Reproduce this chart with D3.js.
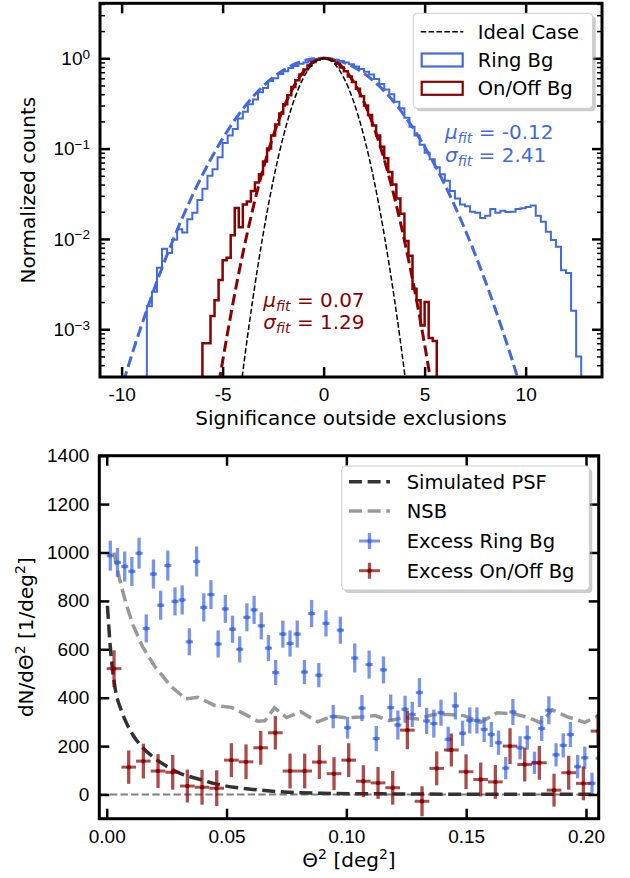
<!DOCTYPE html>
<html>
<head>
<meta charset="utf-8">
<script src="https://cdn.jsdelivr.net/npm/d3@7"></script>
<style>
body { margin: 0; background: #fff; }
svg { font-family: "DejaVu Sans", sans-serif; }
</style>
</head>
<body>
<div id="chart"></div>
<script>
'use strict';

var width = 630;
var height = 878;

// ---- top panel: significance outside exclusions ----

// ring background histogram, bins of 0.25 starting at -8.75
var ringBinStart = -8.75;
var ringBinWidth = 0.25;
var ringCounts = [
	0.0018, 0.0026, 0.0048, 0.0078, 0.0070, 0.0098, 0.0128, 0.0118, 0.0165, 0.0195,
	0.0270, 0.0360, 0.0500, 0.0590, 0.0800, 0.1150, 0.1400, 0.1650, 0.2150, 0.2550,
	0.3100, 0.3500, 0.4200, 0.4700, 0.5600, 0.6000, 0.6700, 0.7200, 0.7800, 0.8200,
	0.8700, 0.9000, 0.9400, 0.9700, 1.0000, 0.9900, 0.9800, 0.9600, 0.9300, 0.9000,
	0.8600, 0.8100, 0.7600, 0.7100, 0.6600, 0.5900, 0.5200, 0.4500, 0.4000, 0.3300,
	0.2800, 0.2200, 0.1750, 0.1400, 0.1100, 0.0900, 0.0760, 0.0620, 0.0520, 0.0440,
	0.0340, 0.0280, 0.0240, 0.0230, 0.0200, 0.0195, 0.0170, 0.0180, 0.0215, 0.0195,
	0.0205, 0.0198, 0.0200, 0.0215, 0.0218, 0.0225, 0.0235, 0.0180, 0.0155, 0.0120,
	0.0097, 0.0082, 0.0045, 0.0042, 0.0016, 0.0005
];

// on/off background histogram, bins of 0.2 starting at -6
var onoffBinStart = -6.0;
var onoffBinWidth = 0.2;
var onoffCounts = [
	0.0007, 0.0007, 0.0014, 0.0021, 0.0035, 0.0058, 0.0062, 0.0110, 0.0220, 0.0135,
	0.0240, 0.0260, 0.0340, 0.0420, 0.0520, 0.0720, 0.1000, 0.1400, 0.1850, 0.2450,
	0.3100, 0.3900, 0.4800, 0.5700, 0.6600, 0.7500, 0.8300, 0.9100, 0.9600, 0.9900,
	1.0000, 0.9800, 0.9400, 0.8700, 0.7900, 0.7200, 0.6300, 0.5450, 0.4600, 0.3800,
	0.3000, 0.2350, 0.1800, 0.1400, 0.1050, 0.0780, 0.0550, 0.0400, 0.0280, 0.0190,
	0.0095, 0.0065, 0.0028, 0.0021, 0.0011, 0.0020, 0.0008, 0.00074
];

// dashed curves
var idealX = [-4.5, -4, -3.5, -3, -2.5, -2, -1.5, -1, -0.5, 0, 0.5, 1, 1.5, 2, 2.5, 3, 3.5, 4, 4.5];
var idealY = [4.0e-5, 3.36e-4, 2.19e-3, 0.0111, 0.0439, 0.135, 0.325, 0.607, 0.883, 1,
	0.883, 0.607, 0.325, 0.135, 0.0439, 0.0111, 2.19e-3, 3.36e-4, 4.0e-5];

var onoffFitX = [-6, -5.5, -5, -4.5, -4, -3.5, -3, -2.5, -2, -1.5, -1, -0.5, 0,
	0.5, 1, 1.5, 2, 2.5, 3, 3.5, 4, 4.5, 5, 5.5, 6];
var onoffFitY = [1.56e-5, 8.95e-5, 4.42e-4, 1.88e-3, 6.89e-3, 0.0217, 0.0589, 0.137, 0.276,
	0.477, 0.709, 0.907, 0.999, 0.946, 0.771, 0.541, 0.327, 0.170, 0.0758, 0.0292,
	9.65e-3, 2.75e-3, 6.74e-4, 1.42e-4, 2.58e-5];

var ringFitX = [-11, -10, -9, -8, -7, -6, -5, -4, -3, -2, -1, 0, 1, 2, 3, 4, 5, 6, 7, 8, 9, 10, 11];
var ringFitY = [3.75e-5, 2.24e-4, 1.13e-3, 4.77e-3, 0.0170, 0.0510, 0.129, 0.274, 0.490,
	0.738, 0.936, 0.999, 0.898, 0.679, 0.433, 0.232, 0.105, 0.0398, 0.0127, 3.43e-3,
	7.76e-4, 1.48e-4, 2.38e-5];

var ringFitText = ["-0.12", "2.41"];
var onoffFitText = ["0.07", "1.29"];

var sigTicks = [-10, -5, 0, 5, 10];
var countTicks = [1e-3, 1e-2, 1e-1, 1];
var countExponents = ["\u22123", "\u22122", "\u22121", "0"];

// ---- bottom panel: theta^2 distribution ----

// ring excess, bins of 0.003 deg^2
var ringThetaBin = 0.003;
var ringExcess = [
	987, 959, 942, 922, 997, 686, 911, 782, 946, 798,
	804, 631, 963, 773, 826, 622, 767, 683, 600, 732,
	763, 697, 605, 504, 663, 624, 663, 506, 748, 493,
	707, 322, 679, 276, 564, 357, 537, 231, 515, 359,
	287, 352, 331, 421, 304, 293, 338, 228, 366, 253,
	306, 306, 269, 248, 214, 109, 341, 193, 235, 131,
	273, 348, 164, 203, 248, 115, 152, 46, 150
];
var ringExcessErr = [
	62, 60, 62, 60, 64, 58, 60, 60, 62, 58,
	60, 56, 62, 58, 60, 56, 58, 56, 54, 58,
	58, 56, 54, 52, 56, 54, 56, 50, 56, 50,
	54, 48, 56, 45, 60, 54, 58, 52, 56, 54,
	60, 56, 52, 60, 54, 58, 54, 52, 56, 52,
	54, 54, 52, 52, 50, 46, 54, 48, 50, 46,
	52, 58, 48, 50, 52, 48, 46, 44, 46
];

// on/off excess, bins of 0.00612 deg^2
var onoffThetaBin = 0.00612;
var onoffExcess = [
	520, 113, 138, 97, 92, 35, 30, 26, 142, 135,
	193, 255, 97, 97, 134, 86, 142, 55, 48, 28,
	266, -28, 108, 184, 94, 62, 52, 200, 124, 131,
	18, 90, 46, 262
];
var onoffExcessErr = [
	76, 69, 72, 70, 72, 68, 72, 74, 70, 72,
	70, 69, 72, 72, 70, 68, 70, 66, 66, 70,
	79, 62, 70, 68, 72, 70, 70, 74, 70, 70,
	68, 70, 70, 70
];

var psfTheta = [0.0003, 0.0015, 0.0035, 0.006, 0.0085, 0.011, 0.014, 0.02, 0.025, 0.03,
	0.039, 0.045, 0.053, 0.061, 0.074, 0.09, 0.11, 0.13, 0.16, 0.19, 0.206];
var psfValue = [780, 610, 440, 350, 290, 245, 205, 150, 117, 90,
	62, 45, 30, 21, 10, 5, 3, 2, 1, 1, 1];

var nsbTheta = [0.003, 0.005, 0.008, 0.011, 0.015, 0.02, 0.027, 0.033, 0.038, 0.045,
	0.052, 0.058, 0.063, 0.066, 0.070, 0.075, 0.081, 0.088, 0.094, 0.100,
	0.106, 0.112, 0.118, 0.124, 0.130, 0.136, 0.143, 0.149, 0.156, 0.163,
	0.170, 0.176, 0.181, 0.186, 0.192, 0.1995, 0.205];
var nsbValue = [1000, 905, 790, 700, 610, 530, 445, 395, 402, 368,
	360, 330, 303, 305, 358, 318, 342, 300, 324, 317,
	320, 326, 305, 318, 312, 330, 331, 326, 298, 338,
	333, 318, 297, 350, 322, 298, 325];

var thetaTicks = [0, 0.05, 0.1, 0.15, 0.2];
var excessTicks = [0, 200, 400, 600, 800, 1000, 1200, 1400];

// ---- drawing ----

var ring_color = "#4169e1";
var onoff_color = "#8b0000";

var top_box = {x0: 100, x1: 602, y0: 3.3, y1: 377};
var bot_box = {x0: 99.3, x1: 598.7, y0: 455.7, y1: 818.7};

var sig_scale = d3.scaleLinear().domain([-11.07, 13.78]).range([top_box.x0, top_box.x1]);
var count_scale = d3.scaleLog().domain([2.96e-4, 4.06]).range([top_box.y1, top_box.y0]);
var theta_scale = d3.scaleLinear().domain([-0.00309, 0.2053]).range([bot_box.x0, bot_box.x1]);
var excess_scale = d3.scaleLinear().domain([-100, 1400]).range([bot_box.y1, bot_box.y0]);

var svg = d3.select("#chart").append("svg")
	.attr("width", width)
	.attr("height", height);

var defs = svg.append("defs");

function add_clip(id, box) {
	defs.append("clipPath").attr("id", id).append("rect")
		.attr("x", box.x0).attr("y", box.y0)
		.attr("width", box.x1 - box.x0).attr("height", box.y1 - box.y0);
}
add_clip("clip_top", top_box);
add_clip("clip_bot", bot_box);

// outline of a step histogram, closed down to a floor below the axis
function step_points(start, w, counts, floor) {
	var pts = [[start, floor]];
	counts.forEach(function(c, i) {
		pts.push([start + i * w, c]);
		pts.push([start + (i + 1) * w, c]);
	});
	pts.push([start + counts.length * w, floor]);
	return pts;
}

function zip(xs, ys) {
	return xs.map(function(x, i) { return [x, ys[i]]; });
}

function style_ticks(g, w) {
	g.select(".domain").remove();
	g.selectAll(".tick line").attr("stroke", "black").attr("stroke-width", w);
	g.selectAll(".tick text").attr("fill", "black").style("font-size", "19px");
}

function draw_legend_box(x, y, w, h) {
	svg.append("rect")
		.attr("x", x + 3).attr("y", y + 3)
		.attr("width", w).attr("height", h).attr("rx", 4)
		.style("fill", "#999").style("opacity", 0.5);
	svg.append("rect")
		.attr("x", x).attr("y", y)
		.attr("width", w).attr("height", h).attr("rx", 4)
		.style("fill", "white").style("stroke", "#cccccc").style("stroke-width", 1);
}

function fit_label(x, y, sym, value, color) {
	var t = svg.append("text")
		.attr("x", x).attr("y", y)
		.attr("fill", color)
		.style("font-size", "20px");
	t.append("tspan").style("font-style", "italic").text(sym);
	t.append("tspan").style("font-style", "italic").style("font-size", "14px")
		.attr("dy", 4).text("fit");
	t.append("tspan").attr("dy", -4).text(" = " + value);
}

// -- top panel --

var hist_line = d3.line()
	.x(function(d) { return sig_scale(d[0]); })
	.y(function(d) { return count_scale(d[1]); });

var fit_line = d3.line()
	.curve(d3.curveNatural)
	.x(function(d) { return sig_scale(d[0]); })
	.y(function(d) { return count_scale(d[1]); });

var top_plot = svg.append("g").attr("clip-path", "url(#clip_top)");

top_plot.append("path")
	.attr("d", hist_line(step_points(ringBinStart, ringBinWidth, ringCounts, 1e-6)))
	.style("fill", "none").style("stroke", ring_color).style("stroke-width", 2);

top_plot.append("path")
	.attr("d", hist_line(step_points(onoffBinStart, onoffBinWidth, onoffCounts, 1e-6)))
	.style("fill", "none").style("stroke", onoff_color).style("stroke-width", 2.5);

top_plot.append("path")
	.attr("d", fit_line(zip(ringFitX, ringFitY)))
	.style("fill", "none").style("stroke", ring_color)
	.style("stroke-width", 3).style("stroke-dasharray", "11,4.8");

top_plot.append("path")
	.attr("d", fit_line(zip(onoffFitX, onoffFitY)))
	.style("fill", "none").style("stroke", onoff_color)
	.style("stroke-width", 3).style("stroke-dasharray", "11,4.8");

top_plot.append("path")
	.attr("d", fit_line(zip(idealX, idealY)))
	.style("fill", "none").style("stroke", "black")
	.style("stroke-width", 1.5).style("stroke-dasharray", "5.5,2.4");

// ticks, all pointing inwards
var minorCounts = count_scale.ticks().filter(function(d) {
	return countTicks.indexOf(d) < 0;
});

var g_bottom = svg.append("g").attr("transform", "translate(0," + top_box.y1 + ")")
	.call(d3.axisBottom(sig_scale).tickValues(sigTicks).tickSize(-10).tickPadding(11)
		.tickFormat(function(d) { return String(d); }));
style_ticks(g_bottom, 2.5);

var g_top = svg.append("g").attr("transform", "translate(0," + top_box.y0 + ")")
	.call(d3.axisTop(sig_scale).tickValues(sigTicks).tickSize(-10).tickFormat(""));
style_ticks(g_top, 2.5);

var g_left = svg.append("g").attr("transform", "translate(" + top_box.x0 + ",0)")
	.call(d3.axisLeft(count_scale).tickValues(countTicks).tickSize(-10).tickPadding(10));
style_ticks(g_left, 2.5);
g_left.selectAll(".tick text").text(null).each(function(d, i) {
	var t = d3.select(this);
	t.append("tspan").text("10");
	t.append("tspan").attr("dy", "-0.45em").style("font-size", "13.5px").text(countExponents[i]);
});

var g_left_minor = svg.append("g").attr("transform", "translate(" + top_box.x0 + ",0)")
	.call(d3.axisLeft(count_scale).tickValues(minorCounts).tickSize(-5).tickFormat(""));
style_ticks(g_left_minor, 1.5);

var g_right = svg.append("g").attr("transform", "translate(" + top_box.x1 + ",0)")
	.call(d3.axisRight(count_scale).tickValues(countTicks).tickSize(-10).tickFormat(""));
style_ticks(g_right, 2.5);

var g_right_minor = svg.append("g").attr("transform", "translate(" + top_box.x1 + ",0)")
	.call(d3.axisRight(count_scale).tickValues(minorCounts).tickSize(-5).tickFormat(""));
style_ticks(g_right_minor, 1.5);

svg.append("rect")
	.attr("x", top_box.x0).attr("y", top_box.y0)
	.attr("width", top_box.x1 - top_box.x0).attr("height", top_box.y1 - top_box.y0)
	.style("fill", "none").style("stroke", "black").style("stroke-width", 3);

svg.append("text")
	.attr("x", (top_box.x0 + top_box.x1) / 2).attr("y", 425)
	.attr("text-anchor", "middle").style("font-size", "20px")
	.text("Significance outside exclusions");

svg.append("text")
	.attr("transform", "translate(35," + (top_box.y0 + top_box.y1) / 2 + ") rotate(-90)")
	.attr("text-anchor", "middle").style("font-size", "20px")
	.text("Normalized counts");

fit_label(445, 139, "\u03bc", ringFitText[0], ring_color);
fit_label(445, 161.7, "\u03c3", ringFitText[1], ring_color);
fit_label(263.3, 306.7, "\u03bc", onoffFitText[0], onoff_color);
fit_label(263.3, 329.3, "\u03c3", onoffFitText[1], onoff_color);

// top legend
draw_legend_box(413.3, 13.3, 179.4, 95);

var top_legend = [
	{label: "Ideal Case", kind: "line", color: "black", y: 31.7},
	{label: "Ring Bg", kind: "patch", color: ring_color, y: 60},
	{label: "On/Off Bg", kind: "patch", color: onoff_color, y: 88.3}
];

top_legend.forEach(function(d) {
	if (d.kind == "line") {
		svg.append("line")
			.attr("x1", 420.7).attr("x2", 463.3).attr("y1", d.y).attr("y2", d.y)
			.style("stroke", d.color).style("stroke-width", 1.5)
			.style("stroke-dasharray", "5.5,2.4");
	} else {
		svg.append("rect")
			.attr("x", 421.7).attr("y", d.y - 6.5).attr("width", 41).attr("height", 13)
			.style("fill", "none").style("stroke", d.color).style("stroke-width", 2.2);
	}
	svg.append("text")
		.attr("x", 477.7).attr("y", d.y).attr("dy", "0.36em")
		.style("font-size", "19.5px").text(d.label);
});

// -- bottom panel --

var bot_plot = svg.append("g").attr("clip-path", "url(#clip_bot)");

bot_plot.append("line")
	.attr("x1", bot_box.x0).attr("x2", bot_box.x1)
	.attr("y1", excess_scale(0)).attr("y2", excess_scale(0))
	.style("stroke", "#808080").style("stroke-width", 2)
	.style("stroke-dasharray", "7.4,3.2");

var theta_line = d3.line()
	.x(function(d) { return theta_scale(d[0]); })
	.y(function(d) { return excess_scale(d[1]); });

bot_plot.append("path")
	.attr("d", theta_line.curve(d3.curveMonotoneX)(zip(psfTheta, psfValue)))
	.style("fill", "none").style("stroke", "#333333")
	.style("stroke-width", 3.5).style("stroke-dasharray", "13,5.6");

bot_plot.append("path")
	.attr("d", theta_line.curve(d3.curveLinear)(zip(nsbTheta, nsbValue)))
	.style("fill", "none").style("stroke", "#999999")
	.style("stroke-width", 3.5).style("stroke-dasharray", "13,5.6");

function draw_errorbars(bin, values, errs, color) {
	var pts = values.map(function(v, i) {
		return {x: (i + 0.5) * bin, y: v, e: errs[i]};
	});
	var g = bot_plot.append("g");
	var bars = g.append("g").style("opacity", 0.7);

	bars.selectAll(null).data(pts).enter().append("line")
		.attr("x1", function(d) { return theta_scale(d.x); })
		.attr("x2", function(d) { return theta_scale(d.x); })
		.attr("y1", function(d) { return excess_scale(d.y - d.e); })
		.attr("y2", function(d) { return excess_scale(d.y + d.e); })
		.style("stroke", color).style("stroke-width", 3.3);

	bars.selectAll(null).data(pts).enter().append("line")
		.attr("x1", function(d) { return theta_scale(d.x - bin / 2); })
		.attr("x2", function(d) { return theta_scale(d.x + bin / 2); })
		.attr("y1", function(d) { return excess_scale(d.y); })
		.attr("y2", function(d) { return excess_scale(d.y); })
		.style("stroke", color).style("stroke-width", 3);

	g.selectAll(null).data(pts).enter().append("circle")
		.attr("cx", function(d) { return theta_scale(d.x); })
		.attr("cy", function(d) { return excess_scale(d.y); })
		.attr("r", 2.2)
		.style("fill", color);
}

draw_errorbars(ringThetaBin, ringExcess, ringExcessErr, ring_color);
draw_errorbars(onoffThetaBin, onoffExcess, onoffExcessErr, onoff_color);

var b_bottom = svg.append("g").attr("transform", "translate(0," + bot_box.y1 + ")")
	.call(d3.axisBottom(theta_scale).tickValues(thetaTicks).tickSize(-10).tickPadding(11)
		.tickFormat(d3.format(".2f")));
style_ticks(b_bottom, 2.5);

var b_top = svg.append("g").attr("transform", "translate(0," + bot_box.y0 + ")")
	.call(d3.axisTop(theta_scale).tickValues(thetaTicks).tickSize(-10).tickFormat(""));
style_ticks(b_top, 2.5);

var b_left = svg.append("g").attr("transform", "translate(" + bot_box.x0 + ",0)")
	.call(d3.axisLeft(excess_scale).tickValues(excessTicks).tickSize(-10).tickPadding(10)
		.tickFormat(d3.format("d")));
style_ticks(b_left, 2.5);

var b_right = svg.append("g").attr("transform", "translate(" + bot_box.x1 + ",0)")
	.call(d3.axisRight(excess_scale).tickValues(excessTicks).tickSize(-10).tickFormat(""));
style_ticks(b_right, 2.5);

svg.append("rect")
	.attr("x", bot_box.x0).attr("y", bot_box.y0)
	.attr("width", bot_box.x1 - bot_box.x0).attr("height", bot_box.y1 - bot_box.y0)
	.style("fill", "none").style("stroke", "black").style("stroke-width", 3);

var xlab = svg.append("text")
	.attr("x", (bot_box.x0 + bot_box.x1) / 2).attr("y", 867)
	.attr("text-anchor", "middle").style("font-size", "20px");
xlab.append("tspan").text("\u0398");
xlab.append("tspan").attr("dy", -8).style("font-size", "14px").text("2");
xlab.append("tspan").attr("dy", 8).text(" [deg");
xlab.append("tspan").attr("dy", -8).style("font-size", "14px").text("2");
xlab.append("tspan").attr("dy", 8).text("]");

var ylab = svg.append("text")
	.attr("transform", "translate(33," + (bot_box.y0 + bot_box.y1) / 2 + ") rotate(-90)")
	.attr("text-anchor", "middle").style("font-size", "20px");
ylab.append("tspan").text("dN/d\u0398");
ylab.append("tspan").attr("dy", -8).style("font-size", "14px").text("2");
ylab.append("tspan").attr("dy", 8).text(" [1/deg");
ylab.append("tspan").attr("dy", -8).style("font-size", "14px").text("2");
ylab.append("tspan").attr("dy", 8).text("]");

// bottom legend
draw_legend_box(341.7, 466, 247.6, 124);

var bot_legend = [
	{label: "Simulated PSF", kind: "line", color: "#333333", y: 481.7},
	{label: "NSB", kind: "line", color: "#999999", y: 511},
	{label: "Excess Ring Bg", kind: "cross", color: ring_color, y: 541},
	{label: "Excess On/Off Bg", kind: "cross", color: onoff_color, y: 570.7}
];

bot_legend.forEach(function(d) {
	if (d.kind == "line") {
		svg.append("line")
			.attr("x1", 349).attr("x2", 390).attr("y1", d.y).attr("y2", d.y)
			.style("stroke", d.color).style("stroke-width", 3.5)
			.style("stroke-dasharray", "13,5.6");
	} else {
		var h = svg.append("g").style("opacity", 0.7);
		h.append("line")
			.attr("x1", 359).attr("x2", 380).attr("y1", d.y).attr("y2", d.y)
			.style("stroke", d.color).style("stroke-width", 3);
		h.append("line")
			.attr("x1", 369.5).attr("x2", 369.5).attr("y1", d.y - 8).attr("y2", d.y + 8)
			.style("stroke", d.color).style("stroke-width", 3.3);
		svg.append("circle")
			.attr("cx", 369.5).attr("cy", d.y).attr("r", 2.2).style("fill", d.color);
	}
	svg.append("text")
		.attr("x", 406.7).attr("y", d.y).attr("dy", "0.36em")
		.style("font-size", "19.5px").text(d.label);
});
</script>
</body>
</html>
